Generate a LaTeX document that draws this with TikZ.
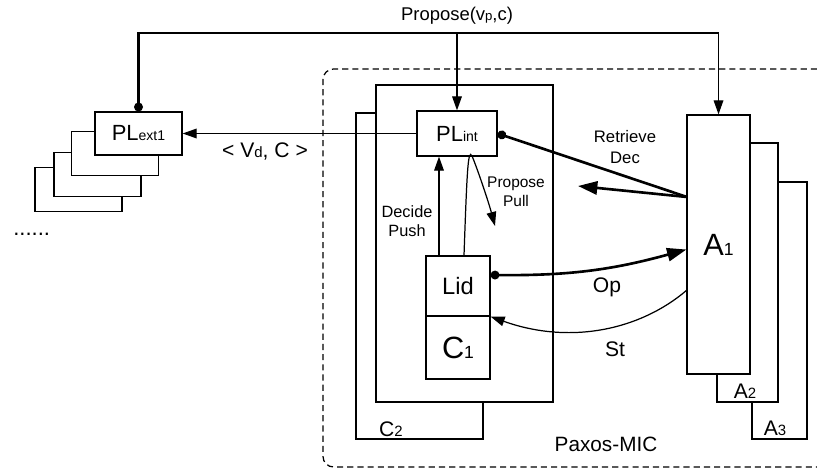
\documentclass[tikz,border=0pt]{standalone}
\usepackage{fontspec}
\setmainfont{Liberation Sans}
\usetikzlibrary{arrows.meta, calc}

% small index on the baseline, as the figure prints it
\newcommand{\lsub}[2]{{\fontsize{#1}{#1}\selectfont #2}}

\begin{document}
\begin{tikzpicture}[x=0.02cm, y=-0.02cm,
    every node/.style={inner sep=0pt, align=center},
    pbox/.style 2 args={draw, fill=white, line width=0.7pt,
      minimum width=#1*0.02cm, minimum height=#2*0.02cm},
    link/.style={line width=0.7pt},
    heavy/.style={line width=1.5pt},
    tipS/.style={-{Triangle[length=8pt, width=5.5pt]}},
    tipL/.style={-{Triangle[length=11pt, width=7.5pt]}},
    region/.style={line width=0.7pt, dash pattern=on 3.5pt off 2.3pt, rounded corners=6pt},
    big/.style={font=\fontsize{17.5}{20}\selectfont},
    mid/.style={font=\fontsize{12}{14}\selectfont},
    small/.style={font=\fontsize{9.3}{11}\selectfont}]
  \useasboundingbox (0,0) rectangle (817,470);

  % Paxos-MIC region
  \draw[region] (817,69) -- (323,69) -- (323,467) -- (817,467);
  \node[font=\fontsize{11.8}{13}\selectfont] (pmic) at (606,444) {Paxos-MIC};

  % external proposers (stack)
  \foreach \cx/\cy/\nm in {78.5/189.5/ext4, 97.5/174.5/ext3, 115/153.5/ext2}
    \node[pbox={87}{44}] (\nm) at (\cx,\cy) {};
  \node[pbox={87}{43}, font=\fontsize{12.5}{14}\selectfont] (PLext1) at (138.5,133.5) {PL\lsub{8}{ext1}};
  \node[anchor=base west, font=\fontsize{12.5}{14}\selectfont] (more) at (13,235) {......};

  % clients C2, C1
  \node[pbox={127}{326}] (C2) at (419.5,276) {};
  \node[mid] (C2lab) at (391,429.5) {C\lsub{8.5}{2}};
  \node[pbox={177}{317}] (C1out) at (464.5,243.5) {};
  \node[pbox={80}{45}, font=\fontsize{12.5}{14}\selectfont] (PLint) at (457,133.5) {PL\lsub{8}{int}};
  \node[pbox={64}{60}, font=\fontsize{13.5}{15}\selectfont] (Lid) at (458,286) {Lid};
  \node[pbox={64}{63}, big] (C1) at (458,347.5) {C\lsub{10}{1}};

  % acceptors A3, A2, A1
  \node[pbox={55}{257}] (A3) at (779.5,310.5) {};
  \node[mid] (A3lab) at (775,428.5) {A\lsub{8.5}{3}};
  \node[pbox={61}{259}] (A2) at (747.5,272.5) {};
  \node[mid] (A2lab) at (745,391) {A\lsub{8.5}{2}};
  \node[pbox={63}{259}, big] (A1) at (718.5,244.5) {A\lsub{10}{1}};

  % Propose rail
  \node[font=\fontsize{10.5}{12}\selectfont] (prop) at (457,16) {Propose(v\lsub{7.5}{p},c)};
  \coordinate (rail) at (0,33);
  \draw[heavy, {Circle[length=5pt]}-] (PLext1.north) |- (A1.north |- rail);
  \draw[link, tipS] (PLint.north |- rail) -- (PLint.north);
  \draw[link, tipS] (A1.north |- rail) -- (A1.north);

  % decision back to the external proposer
  \draw[link, tipS] (PLint.west) -- (PLext1.east);
  \node[font=\fontsize{12}{14}\selectfont] (vd) at (265,151) {< V\lsub{8.5}{d}, C >};

  % Decide Push / Propose Pull
  \draw[link, tipS] ($(Lid.north)+(-19,0)$) -- ($(PLint.south)+(-18,0)$);
  \node[small] (decide) at (407,221) {Decide\\Push};
  \coordinate (pullend) at (495,226);
  \draw[link, tipS] ($(Lid.north)+(6,0)$) .. controls (467,170) and (468,148) .. (472,156)
    .. controls (476,165) and (488,200) .. (pullend);
  \node[font=\fontsize{8.8}{11}\selectfont] (pull) at (516,192) {Propose\\Pull};

  % Retrieve Dec
  \coordinate (rdec) at (687,197);
  \coordinate (rdecend) at (578,186);
  \draw[heavy, {Circle[length=5pt]}-] (PLint.east) -- (rdec);
  \draw[heavy, tipL] (rdec) -- (rdecend);
  \node[font=\fontsize{9.5}{11.5}\selectfont] (retr) at (625,147) {Retrieve\\Dec};

  % Op and St
  \draw[heavy, {Circle[length=5pt]}-{Triangle[length=11pt, width=7.5pt]}]
    ($(Lid.east)+(0,-11)$) to[bend right=8] ($(A1.west)+(0,5)$);
  \node[font=\fontsize{12}{14}\selectfont] (op) at (607,287) {Op};
  \coordinate (stst) at ($(A1.west)+(0,46)$);
  \draw[link, tipS] (stst) .. controls (640,330) and (570,345) .. (Lid.south east);
  \node[font=\fontsize{12}{14}\selectfont] (st) at (615,349) {St};
\end{tikzpicture}
\end{document}
